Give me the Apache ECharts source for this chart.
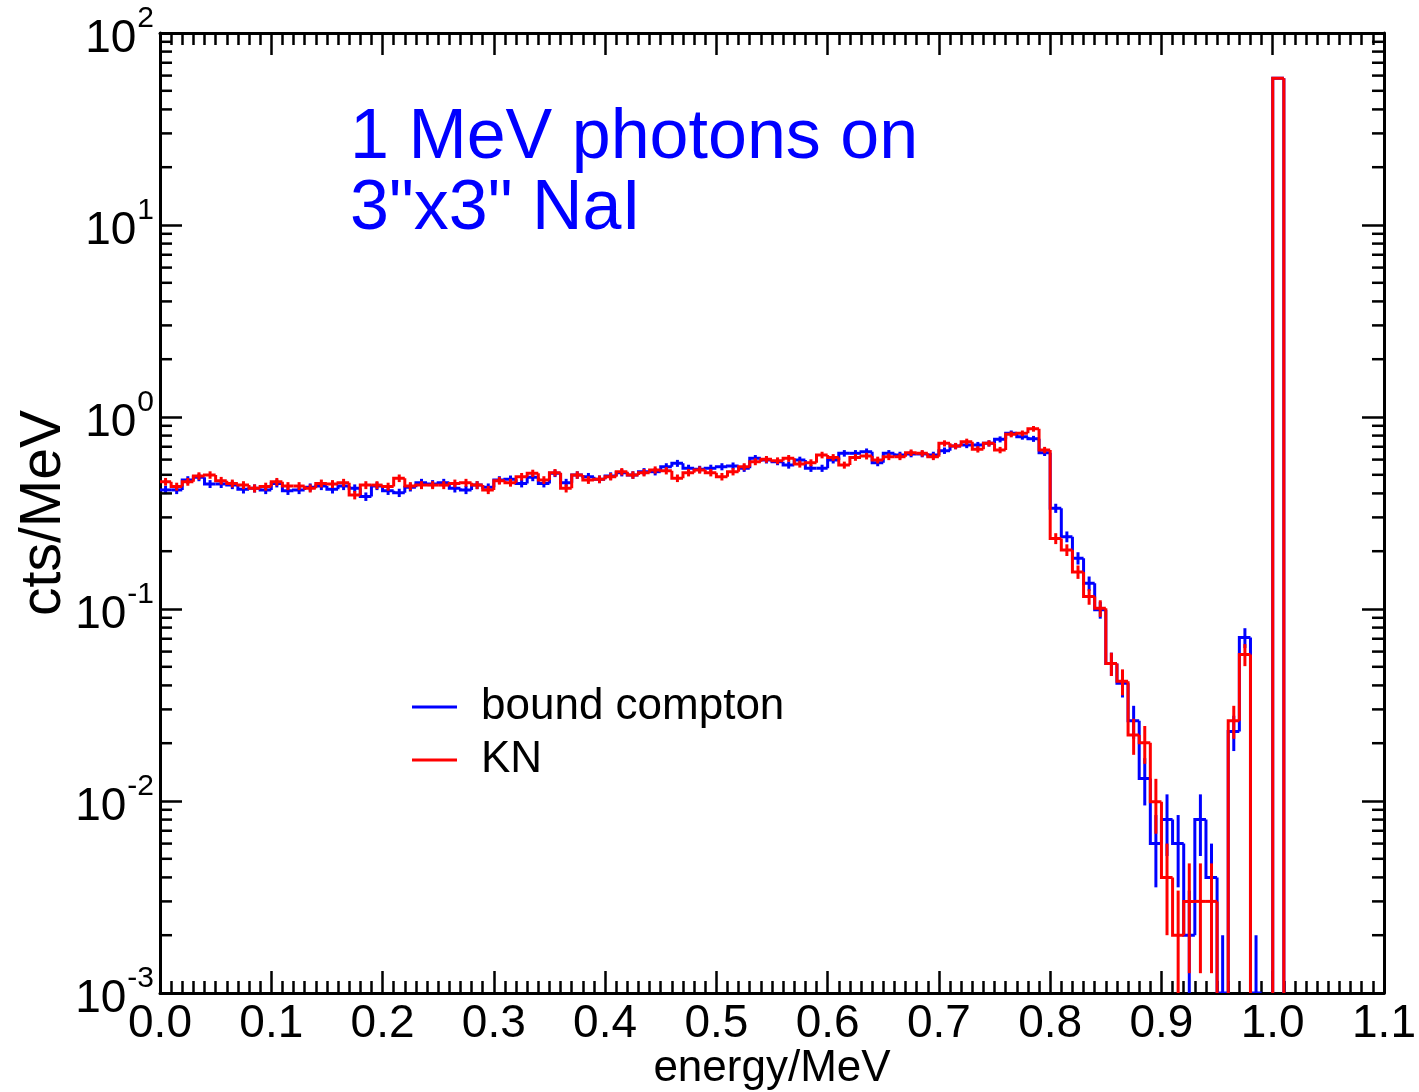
<!DOCTYPE html>
<html><head><meta charset="utf-8">
<script src="https://cdn.jsdelivr.net/npm/echarts@6/dist/echarts.min.js"></script>
<style>html,body{margin:0;padding:0;background:#fff}#c{width:1419px;height:1092px}</style>
</head><body><div id="c"></div>
<script>
// ---- data ----
const binStart = 0.0;
const binWidth = 0.01;   // MeV per bin, 110 bins from 0.0 to 1.1
const countScale = 0.001; // cts/MeV represented by one count (for Poisson error bars)

const boundCompton = [
  0.417,0.417,0.470,0.485,0.448,0.448,0.442,0.420,0.425,0.417,
  0.451,0.413,0.417,0.430,0.437,0.420,0.437,0.425,0.385,0.437,
  0.413,0.403,0.430,0.455,0.448,0.455,0.425,0.417,0.442,0.430,
  0.470,0.474,0.451,0.485,0.451,0.509,0.455,0.499,0.489,0.474,
  0.493,0.513,0.499,0.519,0.519,0.551,0.574,0.541,0.534,0.541,
  0.551,0.556,0.541,0.609,0.597,0.585,0.562,0.597,0.541,0.541,
  0.597,0.647,0.647,0.660,0.578,0.647,0.634,0.642,0.642,0.634,
  0.668,0.706,0.715,0.715,0.729,0.765,0.822,0.790,0.770,0.652,
  0.335,0.238,0.184,0.136,0.099,0.052,0.041,0.0262,0.0131,0.0060,
  0.0080,0.0060,0.0020,0.0080,0.0040,0.0010,0.023,0.071,0.0010,0,
  58.2,0,0,0,0,0,0,0,0,0
];
const kleinNishina = [
  0.460,0.434,0.460,0.493,0.499,0.466,0.451,0.442,0.425,0.434,
  0.460,0.437,0.437,0.425,0.451,0.448,0.455,0.392,0.442,0.442,
  0.434,0.480,0.437,0.442,0.442,0.442,0.451,0.455,0.442,0.417,
  0.466,0.455,0.489,0.509,0.470,0.513,0.425,0.499,0.470,0.474,
  0.489,0.519,0.499,0.513,0.530,0.525,0.480,0.513,0.530,0.513,
  0.489,0.519,0.551,0.585,0.602,0.592,0.609,0.569,0.578,0.634,
  0.616,0.562,0.616,0.626,0.597,0.621,0.621,0.652,0.647,0.621,
  0.729,0.706,0.744,0.679,0.729,0.673,0.812,0.822,0.868,0.673,
  0.233,0.203,0.156,0.116,0.101,0.052,0.042,0.0221,0.0201,0.0099,
  0.0040,0.0020,0.0030,0.0030,0.0030,0,0.0262,0.058,0,0,
  58.1,0,0,0,0,0,0,0,0,0
];
const seriesNames = ['bound compton', 'KN'];
const xMin = 0.0, xMax = 1.1, xStep = 0.1;
const yMin = 0.001, yMax = 100;
const titleLines = ['1 MeV photons on', '3"x3" NaI'];

// ---- chart ----
const FONT = '"Liberation Sans", Arial, Helvetica, sans-serif';
const BLUE = '#0000ff', RED = '#ff0000';
const chart = echarts.init(document.getElementById('c'), null, {renderer: 'canvas'});

function histSeries(name, values, color) {
  const data = values.map((v, i) => [binStart + i * binWidth, binStart + (i + 1) * binWidth, v, i > 0 ? values[i - 1] : v]);
  return {
    type: 'custom', name, coordinateSystem: 'cartesian2d', xAxisIndex: 0, yAxisIndex: 0,
    clip: true, silent: true, animation: false,
    encode: {x: [0, 1], y: 2},
    itemStyle: {color},
    data,
    renderItem(params, api) {
      const x0 = api.value(0), x1 = api.value(1), v = api.value(2), pv = api.value(3);
      // values at or below zero are pushed well below the axis and clipped away
      const cl = t => Math.min(Math.max(t, yMin / 100), yMax * 10);
      const a = api.coord([x0, cl(pv)]), b = api.coord([x0, cl(v)]), c = api.coord([x1, cl(v)]);
      const children = [{type: 'polyline', shape: {points: [a, b, c]}, style: {stroke: color, lineWidth: 3, fill: null, lineJoin: 'miter'}}];
      if (v > 0) {
        const s = Math.sqrt(v * countScale);
        const xc = (x0 + x1) / 2;
        const top = api.coord([xc, cl(v + s)]), bot = api.coord([xc, cl(v - s)]);
        children.push({type: 'line', shape: {x1: top[0], y1: top[1], x2: bot[0], y2: bot[1]}, style: {stroke: color, lineWidth: 3}});
      }
      return {type: 'group', children};
    }
  };
}

// minor ticks for log axis at 2..9 x 10^n
const yMinorTicks = [];
for (let e = Math.round(Math.log10(yMin)); e < Math.round(Math.log10(yMax)); e++) {
  for (let k = 2; k <= 9; k++) yMinorTicks.push(k * Math.pow(10, e));
}
const minorTickSeries = {
  type: 'custom', name: '_ticks', coordinateSystem: 'cartesian2d', silent: true, animation: false,
  encode: {x: 0, y: 1},
  data: yMinorTicks.map(t => [xMin, t]),
  renderItem(params, api) {
    const t = api.value(1);
    const l = api.coord([xMin, t]), r = api.coord([xMax, t]);
    return {type: 'group', children: [
      {type: 'line', shape: {x1: l[0], y1: l[1], x2: l[0] + 12, y2: l[1]}, style: {stroke: '#000', lineWidth: 2.5}},
      {type: 'line', shape: {x1: r[0], y1: r[1], x2: r[0] - 12, y2: r[1]}, style: {stroke: '#000', lineWidth: 2.5}}
    ]};
  }
};

const axisLine = {show: true, onZero: false, lineStyle: {color: '#000', width: 3}};
const xCommon = {
  type: 'value', min: xMin, max: xMax, interval: xStep,
  axisLine, splitLine: {show: false},
  axisTick: {show: true, inside: true, length: 22, lineStyle: {color: '#000', width: 2.5}},
  minorTick: {show: true, splitNumber: 10, length: 12, lineStyle: {color: '#000', width: 2.5}},
};
const yCommon = {
  type: 'log', logBase: 10, min: yMin, max: yMax,
  axisLine, splitLine: {show: false}, minorSplitLine: {show: false},
  axisTick: {show: true, inside: true, length: 22, lineStyle: {color: '#000', width: 2.5}},
  minorTick: {show: false},
};

chart.setOption({
  animation: false,
  backgroundColor: '#fff',
  textStyle: {fontFamily: FONT},
  grid: {left: 160, right: 35, top: 33, bottom: 99, containLabel: false, outerBoundsMode: 'none'},
  title: {
    text: titleLines.join('\n'), left: 345, top: 98,
    textStyle: {fontFamily: FONT, fontSize: 70, fontWeight: 'normal', color: BLUE, lineHeight: 71}
  },
  legend: {
    data: [{name: seriesNames[0], itemStyle: {color: BLUE}}, {name: seriesNames[1], itemStyle: {color: RED}}],
    orient: 'vertical', left: 412, top: 682, padding: 0, itemGap: 3,
    itemWidth: 45, itemHeight: 3, icon: 'rect',
    textStyle: {fontFamily: FONT, fontSize: 44, color: '#000', lineHeight: 50, padding: [0, 0, 0, 19]},
    selectedMode: false
  },
  xAxis: [
    Object.assign({}, xCommon, {
      position: 'bottom', name: 'energy/MeV', nameLocation: 'middle', nameGap: 54, nameMoveOverlap: false,
      nameTextStyle: {fontFamily: FONT, fontSize: 44, color: '#000'},
      axisLabel: {show: true, margin: 8, fontFamily: FONT, fontSize: 46, color: '#000', formatter: v => v.toFixed(1)}
    }),
    Object.assign({}, xCommon, {position: 'top', axisLabel: {show: false}})
  ],
  yAxis: [
    Object.assign({}, yCommon, {
      position: 'left', name: 'cts/MeV', nameLocation: 'middle', nameGap: 87, nameMoveOverlap: false,
      nameTextStyle: {fontFamily: FONT, fontSize: 57, color: '#000'},
      axisLabel: {
        show: true, margin: 6, color: '#000',
        formatter: v => '{b|10}{s|' + Math.round(Math.log10(v)) + '}',
        rich: {
          b: {fontFamily: FONT, fontSize: 46, color: '#000', verticalAlign: 'bottom', lineHeight: 58},
          s: {fontFamily: FONT, fontSize: 30, color: '#000', verticalAlign: 'top', lineHeight: 58, padding: [0, 0, 0, 1]}
        }
      }
    }),
    Object.assign({}, yCommon, {position: 'right', axisLabel: {show: false}})
  ],
  series: [
    histSeries(seriesNames[0], boundCompton, BLUE),
    histSeries(seriesNames[1], kleinNishina, RED),
    minorTickSeries
  ]
});
</script>
</body></html>
